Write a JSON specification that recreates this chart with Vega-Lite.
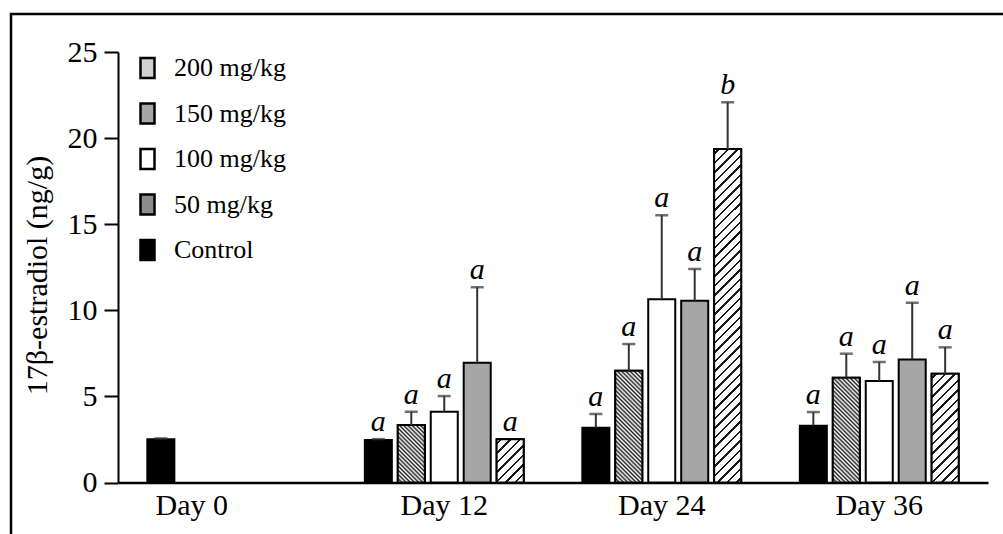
{
  "$schema": "https://vega.github.io/schema/vega-lite/v6.json",
  "width": 1003,
  "height": 530,
  "autosize": {"type": "none"},
  "padding": {"left": 11, "top": 14, "right": 0, "bottom": 0},
  "background": "white",
  "config": {
    "view": {"stroke": "black", "strokeWidth": 2.5},
    "font": "Liberation Serif"
  },
  "data": {
    "values": [
      {"day": "Day 0", "group": "Control", "mean": 2.51, "upper": 2.56, "letter": ""},
      {"day": "Day 12", "group": "Control", "mean": 2.47, "upper": 2.52, "letter": "a"},
      {"day": "Day 12", "group": "50 mg/kg", "mean": 3.34, "upper": 4.11, "letter": "a"},
      {"day": "Day 12", "group": "100 mg/kg", "mean": 4.11, "upper": 5.02, "letter": "a"},
      {"day": "Day 12", "group": "150 mg/kg", "mean": 6.96, "upper": 11.34, "letter": "a"},
      {"day": "Day 12", "group": "200 mg/kg", "mean": 2.51, "upper": 2.51, "letter": "a"},
      {"day": "Day 24", "group": "Control", "mean": 3.18, "upper": 3.98, "letter": "a"},
      {"day": "Day 24", "group": "50 mg/kg", "mean": 6.49, "upper": 8.04, "letter": "a"},
      {"day": "Day 24", "group": "100 mg/kg", "mean": 10.64, "upper": 15.52, "letter": "a"},
      {"day": "Day 24", "group": "150 mg/kg", "mean": 10.56, "upper": 12.4, "letter": "a"},
      {"day": "Day 24", "group": "200 mg/kg", "mean": 19.37, "upper": 22.08, "letter": "b"},
      {"day": "Day 36", "group": "Control", "mean": 3.3, "upper": 4.09, "letter": "a"},
      {"day": "Day 36", "group": "50 mg/kg", "mean": 6.09, "upper": 7.48, "letter": "a"},
      {"day": "Day 36", "group": "100 mg/kg", "mean": 5.89, "upper": 7.0, "letter": "a"},
      {"day": "Day 36", "group": "150 mg/kg", "mean": 7.15, "upper": 10.44, "letter": "a"},
      {"day": "Day 36", "group": "200 mg/kg", "mean": 6.32, "upper": 7.85, "letter": "a"}
    ]
  },
  "encoding": {
    "x": {
      "field": "day",
      "type": "nominal",
      "scale": {"domain": ["Day 0", "Day 12", "Day 24", "Day 36"], "range": [107, 977], "paddingInner": 0, "paddingOuter": 0},
      "axis": {
        "title": null,
        "offset": -61.5,
        "ticks": false,
        "domainColor": "black",
        "domainWidth": 2.5,
        "labelAngle": 0,
        "labelFont": "Liberation Serif",
        "labelFontSize": 30,
        "labelColor": "black",
        "labelPadding": 8,
        "labelOffset": {"condition": {"test": "datum.value === 'Day 0'", "value": -35}, "value": 0}
      }
    },
    "xOffset": {
      "field": "group",
      "type": "nominal",
      "scale": {"domain": ["Control", "50 mg/kg", "100 mg/kg", "150 mg/kg", "200 mg/kg"], "paddingInner": 0.18, "paddingOuter": 0.89}
    }
  },
  "layer": [
    {
      "mark": {"type": "bar", "stroke": "black", "strokeWidth": 2},
      "encoding": {
        "y": {
          "field": "mean",
          "type": "quantitative",
          "title": "17β-estradiol (ng/g)",
          "scale": {"domain": [0, 25], "range": [468.5, 38], "nice": false, "zero": true},
          "axis": {
            "values": [0, 5, 10, 15, 20, 25],
            "offset": -107,
            "tickSize": 14,
            "tickWidth": 2,
            "tickColor": "black",
            "domainColor": "black",
            "domainWidth": 2,
            "grid": false,
            "labelFont": "Liberation Serif",
            "labelFontSize": 30,
            "labelPadding": 7,
            "labelColor": "black",
            "titleFont": "Liberation Serif",
            "titleFontSize": 30,
            "titleFontWeight": "normal",
            "titleColor": "black",
            "titleX": -81,
            "titleY": 261,
            "titleAngle": -90,
            "titleBaseline": "middle",
            "titleAlign": "center"
          }
        },
        "fill": {
          "field": "group",
          "type": "nominal",
          "scale": {"domain": ["Control", "50 mg/kg", "100 mg/kg", "150 mg/kg", "200 mg/kg"], "range": ["black", "#8c8c8c", "white", "#a6a6a6", "#cfcfcf"]},
          "legend": {
            "orient": "none",
            "legendX": 123.5,
            "legendY": 41,
            "title": null,
            "values": ["200 mg/kg", "150 mg/kg", "100 mg/kg", "50 mg/kg", "Control"],
            "symbolType": "M-0.7,-1H0.7V1H-0.7Z",
            "symbolSize": 400,
            "symbolStrokeColor": "black",
            "symbolStrokeWidth": 2.5,
            "labelFont": "Liberation Serif",
            "labelFontSize": 26,
            "labelColor": "black",
            "labelOffset": 13.5,
            "rowPadding": 15.5,
            "padding": 0,
            "encode": {
              "symbols": {
                "update": {
                  "stroke": {"value": "black"},
                  "strokeWidth": {"value": 2.5},
                  "fill": {"signal": "datum.value === '200 mg/kg' ? {gradient: 'linear', x1: 0, y1: 0, x2: 0.7987, y2: 1.1409, stops: [{offset: 0, color: 'white'}, {offset: 0.1034, color: 'white'}, {offset: 0.1034, color: '#1a1a1a'}, {offset: 0.176, color: '#1a1a1a'}, {offset: 0.176, color: 'white'}, {offset: 0.3828, color: 'white'}, {offset: 0.3828, color: '#1a1a1a'}, {offset: 0.4554, color: '#1a1a1a'}, {offset: 0.4554, color: 'white'}, {offset: 0.6622, color: 'white'}, {offset: 0.6622, color: '#1a1a1a'}, {offset: 0.7348, color: '#1a1a1a'}, {offset: 0.7348, color: 'white'}, {offset: 0.9416, color: 'white'}, {offset: 0.9416, color: '#1a1a1a'}, {offset: 1, color: '#1a1a1a'}]} : (datum.value === '50 mg/kg' ? {gradient: 'linear', x1: 0, y1: 1, x2: 0.7987, y2: -0.1409, stops: [{offset: 0, color: '#222222'}, {offset: 0.06176, color: 'white'}, {offset: 0.12353, color: '#222222'}, {offset: 0.18529, color: 'white'}, {offset: 0.24706, color: '#222222'}, {offset: 0.30882, color: 'white'}, {offset: 0.37059, color: '#222222'}, {offset: 0.43235, color: 'white'}, {offset: 0.49412, color: '#222222'}, {offset: 0.55588, color: 'white'}, {offset: 0.61765, color: '#222222'}, {offset: 0.67941, color: 'white'}, {offset: 0.74118, color: '#222222'}, {offset: 0.80294, color: 'white'}, {offset: 0.86471, color: '#222222'}, {offset: 0.92647, color: 'white'}, {offset: 0.98824, color: '#222222'}]} : scale('fill', datum.value))"}
                }
              }
            }
          }
        }
      }
    },
    {
      "transform": [{"filter": "datum.group === '50 mg/kg' && datum.day === 'Day 12'"}],
      "mark": {"type": "bar", "stroke": "black", "strokeWidth": 2, "fill": {"gradient": "linear", "x1": 0, "y1": 1, "x2": 0.5653, "y2": -0.2041, "stops": [
        {"offset": 0, "color": "#222222"}, {"offset": 0.02485, "color": "white"}, {"offset": 0.0497, "color": "#222222"}, {"offset": 0.07455, "color": "white"},
        {"offset": 0.0994, "color": "#222222"}, {"offset": 0.12426, "color": "white"}, {"offset": 0.14911, "color": "#222222"}, {"offset": 0.17396, "color": "white"},
        {"offset": 0.19881, "color": "#222222"}, {"offset": 0.22366, "color": "white"}, {"offset": 0.24851, "color": "#222222"}, {"offset": 0.27336, "color": "white"},
        {"offset": 0.29821, "color": "#222222"}, {"offset": 0.32306, "color": "white"}, {"offset": 0.34791, "color": "#222222"}, {"offset": 0.37277, "color": "white"},
        {"offset": 0.39762, "color": "#222222"}, {"offset": 0.42247, "color": "white"}, {"offset": 0.44732, "color": "#222222"}, {"offset": 0.47217, "color": "white"},
        {"offset": 0.49702, "color": "#222222"}, {"offset": 0.52187, "color": "white"}, {"offset": 0.54672, "color": "#222222"}, {"offset": 0.57157, "color": "white"},
        {"offset": 0.59642, "color": "#222222"}, {"offset": 0.62128, "color": "white"}, {"offset": 0.64613, "color": "#222222"}, {"offset": 0.67098, "color": "white"},
        {"offset": 0.69583, "color": "#222222"}, {"offset": 0.72068, "color": "white"}, {"offset": 0.74553, "color": "#222222"}, {"offset": 0.77038, "color": "white"},
        {"offset": 0.79523, "color": "#222222"}, {"offset": 0.82008, "color": "white"}, {"offset": 0.84493, "color": "#222222"}, {"offset": 0.86979, "color": "white"},
        {"offset": 0.89464, "color": "#222222"}, {"offset": 0.91949, "color": "white"}, {"offset": 0.94434, "color": "#222222"}, {"offset": 0.96919, "color": "white"},
        {"offset": 0.99404, "color": "#222222"}
      ]}},
      "encoding": {"y": {"field": "mean", "type": "quantitative", "title": "17β-estradiol (ng/g)"}}
    },
    {
      "transform": [{"filter": "datum.group === '50 mg/kg' && datum.day === 'Day 24'"}],
      "mark": {"type": "bar", "stroke": "black", "strokeWidth": 2, "fill": {"gradient": "linear", "x1": 0, "y1": 1, "x2": 0.2834, "y2": -0.1732, "stops": [
        {"offset": 0, "color": "#222222"}, {"offset": 0.01513, "color": "white"}, {"offset": 0.03027, "color": "#222222"}, {"offset": 0.0454, "color": "white"},
        {"offset": 0.06053, "color": "#222222"}, {"offset": 0.07567, "color": "white"}, {"offset": 0.0908, "color": "#222222"}, {"offset": 0.10593, "color": "white"},
        {"offset": 0.12106, "color": "#222222"}, {"offset": 0.1362, "color": "white"}, {"offset": 0.15133, "color": "#222222"}, {"offset": 0.16646, "color": "white"},
        {"offset": 0.1816, "color": "#222222"}, {"offset": 0.19673, "color": "white"}, {"offset": 0.21186, "color": "#222222"}, {"offset": 0.227, "color": "white"},
        {"offset": 0.24213, "color": "#222222"}, {"offset": 0.25726, "color": "white"}, {"offset": 0.27239, "color": "#222222"}, {"offset": 0.28753, "color": "white"},
        {"offset": 0.30266, "color": "#222222"}, {"offset": 0.31779, "color": "white"}, {"offset": 0.33293, "color": "#222222"}, {"offset": 0.34806, "color": "white"},
        {"offset": 0.36319, "color": "#222222"}, {"offset": 0.37833, "color": "white"}, {"offset": 0.39346, "color": "#222222"}, {"offset": 0.40859, "color": "white"},
        {"offset": 0.42372, "color": "#222222"}, {"offset": 0.43886, "color": "white"}, {"offset": 0.45399, "color": "#222222"}, {"offset": 0.46912, "color": "white"},
        {"offset": 0.48426, "color": "#222222"}, {"offset": 0.49939, "color": "white"}, {"offset": 0.51452, "color": "#222222"}, {"offset": 0.52966, "color": "white"},
        {"offset": 0.54479, "color": "#222222"}, {"offset": 0.55992, "color": "white"}, {"offset": 0.57505, "color": "#222222"}, {"offset": 0.59019, "color": "white"},
        {"offset": 0.60532, "color": "#222222"}, {"offset": 0.62045, "color": "white"}, {"offset": 0.63559, "color": "#222222"}, {"offset": 0.65072, "color": "white"},
        {"offset": 0.66585, "color": "#222222"}, {"offset": 0.68099, "color": "white"}, {"offset": 0.69612, "color": "#222222"}, {"offset": 0.71125, "color": "white"},
        {"offset": 0.72638, "color": "#222222"}, {"offset": 0.74152, "color": "white"}, {"offset": 0.75665, "color": "#222222"}, {"offset": 0.77178, "color": "white"},
        {"offset": 0.78692, "color": "#222222"}, {"offset": 0.80205, "color": "white"}, {"offset": 0.81718, "color": "#222222"}, {"offset": 0.83232, "color": "white"},
        {"offset": 0.84745, "color": "#222222"}, {"offset": 0.86258, "color": "white"}, {"offset": 0.87771, "color": "#222222"}, {"offset": 0.89285, "color": "white"},
        {"offset": 0.90798, "color": "#222222"}, {"offset": 0.92311, "color": "white"}, {"offset": 0.93825, "color": "#222222"}, {"offset": 0.95338, "color": "white"},
        {"offset": 0.96851, "color": "#222222"}, {"offset": 0.98365, "color": "white"}, {"offset": 0.99878, "color": "#222222"}
      ]}},
      "encoding": {"y": {"field": "mean", "type": "quantitative", "title": "17β-estradiol (ng/g)"}}
    },
    {
      "transform": [{"filter": "datum.group === '50 mg/kg' && datum.day === 'Day 36'"}],
      "mark": {"type": "bar", "stroke": "black", "strokeWidth": 2, "fill": {"gradient": "linear", "x1": 0, "y1": 1, "x2": 0.3036, "y2": -0.1793, "stops": [
        {"offset": 0, "color": "#222222"}, {"offset": 0.01592, "color": "white"}, {"offset": 0.03185, "color": "#222222"}, {"offset": 0.04777, "color": "white"},
        {"offset": 0.06369, "color": "#222222"}, {"offset": 0.07962, "color": "white"}, {"offset": 0.09554, "color": "#222222"}, {"offset": 0.11146, "color": "white"},
        {"offset": 0.12739, "color": "#222222"}, {"offset": 0.14331, "color": "white"}, {"offset": 0.15924, "color": "#222222"}, {"offset": 0.17516, "color": "white"},
        {"offset": 0.19108, "color": "#222222"}, {"offset": 0.20701, "color": "white"}, {"offset": 0.22293, "color": "#222222"}, {"offset": 0.23885, "color": "white"},
        {"offset": 0.25478, "color": "#222222"}, {"offset": 0.2707, "color": "white"}, {"offset": 0.28662, "color": "#222222"}, {"offset": 0.30255, "color": "white"},
        {"offset": 0.31847, "color": "#222222"}, {"offset": 0.33439, "color": "white"}, {"offset": 0.35032, "color": "#222222"}, {"offset": 0.36624, "color": "white"},
        {"offset": 0.38216, "color": "#222222"}, {"offset": 0.39809, "color": "white"}, {"offset": 0.41401, "color": "#222222"}, {"offset": 0.42993, "color": "white"},
        {"offset": 0.44586, "color": "#222222"}, {"offset": 0.46178, "color": "white"}, {"offset": 0.47771, "color": "#222222"}, {"offset": 0.49363, "color": "white"},
        {"offset": 0.50955, "color": "#222222"}, {"offset": 0.52548, "color": "white"}, {"offset": 0.5414, "color": "#222222"}, {"offset": 0.55732, "color": "white"},
        {"offset": 0.57325, "color": "#222222"}, {"offset": 0.58917, "color": "white"}, {"offset": 0.60509, "color": "#222222"}, {"offset": 0.62102, "color": "white"},
        {"offset": 0.63694, "color": "#222222"}, {"offset": 0.65286, "color": "white"}, {"offset": 0.66879, "color": "#222222"}, {"offset": 0.68471, "color": "white"},
        {"offset": 0.70063, "color": "#222222"}, {"offset": 0.71656, "color": "white"}, {"offset": 0.73248, "color": "#222222"}, {"offset": 0.7484, "color": "white"},
        {"offset": 0.76433, "color": "#222222"}, {"offset": 0.78025, "color": "white"}, {"offset": 0.79618, "color": "#222222"}, {"offset": 0.8121, "color": "white"},
        {"offset": 0.82802, "color": "#222222"}, {"offset": 0.84395, "color": "white"}, {"offset": 0.85987, "color": "#222222"}, {"offset": 0.87579, "color": "white"},
        {"offset": 0.89172, "color": "#222222"}, {"offset": 0.90764, "color": "white"}, {"offset": 0.92356, "color": "#222222"}, {"offset": 0.93949, "color": "white"},
        {"offset": 0.95541, "color": "#222222"}, {"offset": 0.97133, "color": "white"}, {"offset": 0.98726, "color": "#222222"}
      ]}},
      "encoding": {"y": {"field": "mean", "type": "quantitative", "title": "17β-estradiol (ng/g)"}}
    },
    {
      "transform": [{"filter": "datum.group === '200 mg/kg' && datum.day === 'Day 12'"}],
      "mark": {"type": "bar", "stroke": "black", "strokeWidth": 2, "fill": {"gradient": "linear", "x1": 0, "y1": 0, "x2": 0.7304, "y2": 1.1686, "stops": [
        {"offset": 0, "color": "white"},
        {"offset": 0.05, "color": "white"}, {"offset": 0.05, "color": "#1a1a1a"}, {"offset": 0.08514, "color": "#1a1a1a"}, {"offset": 0.08514, "color": "white"},
        {"offset": 0.18514, "color": "white"}, {"offset": 0.18514, "color": "#1a1a1a"}, {"offset": 0.22027, "color": "#1a1a1a"}, {"offset": 0.22027, "color": "white"},
        {"offset": 0.32027, "color": "white"}, {"offset": 0.32027, "color": "#1a1a1a"}, {"offset": 0.35541, "color": "#1a1a1a"}, {"offset": 0.35541, "color": "white"},
        {"offset": 0.45541, "color": "white"}, {"offset": 0.45541, "color": "#1a1a1a"}, {"offset": 0.49054, "color": "#1a1a1a"}, {"offset": 0.49054, "color": "white"},
        {"offset": 0.59054, "color": "white"}, {"offset": 0.59054, "color": "#1a1a1a"}, {"offset": 0.62568, "color": "#1a1a1a"}, {"offset": 0.62568, "color": "white"},
        {"offset": 0.72568, "color": "white"}, {"offset": 0.72568, "color": "#1a1a1a"}, {"offset": 0.76081, "color": "#1a1a1a"}, {"offset": 0.76081, "color": "white"},
        {"offset": 0.86081, "color": "white"}, {"offset": 0.86081, "color": "#1a1a1a"}, {"offset": 0.89595, "color": "#1a1a1a"}, {"offset": 0.89595, "color": "white"},
        {"offset": 1, "color": "white"}
      ]}},
      "encoding": {"y": {"field": "mean", "type": "quantitative", "title": "17β-estradiol (ng/g)"}}
    },
    {
      "transform": [{"filter": "datum.group === '200 mg/kg' && datum.day === 'Day 36'"}],
      "mark": {"type": "bar", "stroke": "black", "strokeWidth": 2, "fill": {"gradient": "linear", "x1": 0, "y1": 0, "x2": 0.29178, "y2": 1.17576, "stops": [
        {"offset": 0, "color": "white"},
        {"offset": 0.02589, "color": "white"}, {"offset": 0.02589, "color": "#1a1a1a"}, {"offset": 0.04409, "color": "#1a1a1a"}, {"offset": 0.04409, "color": "white"},
        {"offset": 0.09587, "color": "white"}, {"offset": 0.09587, "color": "#1a1a1a"}, {"offset": 0.11407, "color": "#1a1a1a"}, {"offset": 0.11407, "color": "white"},
        {"offset": 0.16585, "color": "white"}, {"offset": 0.16585, "color": "#1a1a1a"}, {"offset": 0.18405, "color": "#1a1a1a"}, {"offset": 0.18405, "color": "white"},
        {"offset": 0.23583, "color": "white"}, {"offset": 0.23583, "color": "#1a1a1a"}, {"offset": 0.25403, "color": "#1a1a1a"}, {"offset": 0.25403, "color": "white"},
        {"offset": 0.30581, "color": "white"}, {"offset": 0.30581, "color": "#1a1a1a"}, {"offset": 0.32401, "color": "#1a1a1a"}, {"offset": 0.32401, "color": "white"},
        {"offset": 0.37579, "color": "white"}, {"offset": 0.37579, "color": "#1a1a1a"}, {"offset": 0.39399, "color": "#1a1a1a"}, {"offset": 0.39399, "color": "white"},
        {"offset": 0.44577, "color": "white"}, {"offset": 0.44577, "color": "#1a1a1a"}, {"offset": 0.46397, "color": "#1a1a1a"}, {"offset": 0.46397, "color": "white"},
        {"offset": 0.51575, "color": "white"}, {"offset": 0.51575, "color": "#1a1a1a"}, {"offset": 0.53395, "color": "#1a1a1a"}, {"offset": 0.53395, "color": "white"},
        {"offset": 0.58573, "color": "white"}, {"offset": 0.58573, "color": "#1a1a1a"}, {"offset": 0.60393, "color": "#1a1a1a"}, {"offset": 0.60393, "color": "white"},
        {"offset": 0.65571, "color": "white"}, {"offset": 0.65571, "color": "#1a1a1a"}, {"offset": 0.67391, "color": "#1a1a1a"}, {"offset": 0.67391, "color": "white"},
        {"offset": 0.72569, "color": "white"}, {"offset": 0.72569, "color": "#1a1a1a"}, {"offset": 0.74389, "color": "#1a1a1a"}, {"offset": 0.74389, "color": "white"},
        {"offset": 0.79567, "color": "white"}, {"offset": 0.79567, "color": "#1a1a1a"}, {"offset": 0.81387, "color": "#1a1a1a"}, {"offset": 0.81387, "color": "white"},
        {"offset": 0.86565, "color": "white"}, {"offset": 0.86565, "color": "#1a1a1a"}, {"offset": 0.88385, "color": "#1a1a1a"}, {"offset": 0.88385, "color": "white"},
        {"offset": 0.93563, "color": "white"}, {"offset": 0.93563, "color": "#1a1a1a"}, {"offset": 0.95383, "color": "#1a1a1a"}, {"offset": 0.95383, "color": "white"},
        {"offset": 1, "color": "white"}
      ]}},
      "encoding": {"y": {"field": "mean", "type": "quantitative", "title": "17β-estradiol (ng/g)"}}
    },
    {
      "transform": [{"filter": "datum.group === '200 mg/kg' && datum.day === 'Day 24'"}],
      "mark": {"type": "bar", "stroke": "black", "strokeWidth": 2, "fill": {"gradient": "linear", "x1": 0, "y1": 0, "x2": 0.08691, "y2": 1.07388, "stops": [
        {"offset": 0, "color": "white"},
        {"offset": 0.00974, "color": "white"}, {"offset": 0.00974, "color": "#1a1a1a"}, {"offset": 0.01658, "color": "#1a1a1a"}, {"offset": 0.01658, "color": "white"},
        {"offset": 0.03605, "color": "white"}, {"offset": 0.03605, "color": "#1a1a1a"}, {"offset": 0.04289, "color": "#1a1a1a"}, {"offset": 0.04289, "color": "white"},
        {"offset": 0.06237, "color": "white"}, {"offset": 0.06237, "color": "#1a1a1a"}, {"offset": 0.06921, "color": "#1a1a1a"}, {"offset": 0.06921, "color": "white"},
        {"offset": 0.08868, "color": "white"}, {"offset": 0.08868, "color": "#1a1a1a"}, {"offset": 0.09553, "color": "#1a1a1a"}, {"offset": 0.09553, "color": "white"},
        {"offset": 0.115, "color": "white"}, {"offset": 0.115, "color": "#1a1a1a"}, {"offset": 0.12184, "color": "#1a1a1a"}, {"offset": 0.12184, "color": "white"},
        {"offset": 0.14132, "color": "white"}, {"offset": 0.14132, "color": "#1a1a1a"}, {"offset": 0.14816, "color": "#1a1a1a"}, {"offset": 0.14816, "color": "white"},
        {"offset": 0.16763, "color": "white"}, {"offset": 0.16763, "color": "#1a1a1a"}, {"offset": 0.17447, "color": "#1a1a1a"}, {"offset": 0.17447, "color": "white"},
        {"offset": 0.19395, "color": "white"}, {"offset": 0.19395, "color": "#1a1a1a"}, {"offset": 0.20079, "color": "#1a1a1a"}, {"offset": 0.20079, "color": "white"},
        {"offset": 0.22026, "color": "white"}, {"offset": 0.22026, "color": "#1a1a1a"}, {"offset": 0.22711, "color": "#1a1a1a"}, {"offset": 0.22711, "color": "white"},
        {"offset": 0.24658, "color": "white"}, {"offset": 0.24658, "color": "#1a1a1a"}, {"offset": 0.25342, "color": "#1a1a1a"}, {"offset": 0.25342, "color": "white"},
        {"offset": 0.27289, "color": "white"}, {"offset": 0.27289, "color": "#1a1a1a"}, {"offset": 0.27974, "color": "#1a1a1a"}, {"offset": 0.27974, "color": "white"},
        {"offset": 0.29921, "color": "white"}, {"offset": 0.29921, "color": "#1a1a1a"}, {"offset": 0.30605, "color": "#1a1a1a"}, {"offset": 0.30605, "color": "white"},
        {"offset": 0.32553, "color": "white"}, {"offset": 0.32553, "color": "#1a1a1a"}, {"offset": 0.33237, "color": "#1a1a1a"}, {"offset": 0.33237, "color": "white"},
        {"offset": 0.35184, "color": "white"}, {"offset": 0.35184, "color": "#1a1a1a"}, {"offset": 0.35868, "color": "#1a1a1a"}, {"offset": 0.35868, "color": "white"},
        {"offset": 0.37816, "color": "white"}, {"offset": 0.37816, "color": "#1a1a1a"}, {"offset": 0.385, "color": "#1a1a1a"}, {"offset": 0.385, "color": "white"},
        {"offset": 0.40447, "color": "white"}, {"offset": 0.40447, "color": "#1a1a1a"}, {"offset": 0.41132, "color": "#1a1a1a"}, {"offset": 0.41132, "color": "white"},
        {"offset": 0.43079, "color": "white"}, {"offset": 0.43079, "color": "#1a1a1a"}, {"offset": 0.43763, "color": "#1a1a1a"}, {"offset": 0.43763, "color": "white"},
        {"offset": 0.45711, "color": "white"}, {"offset": 0.45711, "color": "#1a1a1a"}, {"offset": 0.46395, "color": "#1a1a1a"}, {"offset": 0.46395, "color": "white"},
        {"offset": 0.48342, "color": "white"}, {"offset": 0.48342, "color": "#1a1a1a"}, {"offset": 0.49026, "color": "#1a1a1a"}, {"offset": 0.49026, "color": "white"},
        {"offset": 0.50974, "color": "white"}, {"offset": 0.50974, "color": "#1a1a1a"}, {"offset": 0.51658, "color": "#1a1a1a"}, {"offset": 0.51658, "color": "white"},
        {"offset": 0.53605, "color": "white"}, {"offset": 0.53605, "color": "#1a1a1a"}, {"offset": 0.54289, "color": "#1a1a1a"}, {"offset": 0.54289, "color": "white"},
        {"offset": 0.56237, "color": "white"}, {"offset": 0.56237, "color": "#1a1a1a"}, {"offset": 0.56921, "color": "#1a1a1a"}, {"offset": 0.56921, "color": "white"},
        {"offset": 0.58868, "color": "white"}, {"offset": 0.58868, "color": "#1a1a1a"}, {"offset": 0.59553, "color": "#1a1a1a"}, {"offset": 0.59553, "color": "white"},
        {"offset": 0.615, "color": "white"}, {"offset": 0.615, "color": "#1a1a1a"}, {"offset": 0.62184, "color": "#1a1a1a"}, {"offset": 0.62184, "color": "white"},
        {"offset": 0.64132, "color": "white"}, {"offset": 0.64132, "color": "#1a1a1a"}, {"offset": 0.64816, "color": "#1a1a1a"}, {"offset": 0.64816, "color": "white"},
        {"offset": 0.66763, "color": "white"}, {"offset": 0.66763, "color": "#1a1a1a"}, {"offset": 0.67447, "color": "#1a1a1a"}, {"offset": 0.67447, "color": "white"},
        {"offset": 0.69395, "color": "white"}, {"offset": 0.69395, "color": "#1a1a1a"}, {"offset": 0.70079, "color": "#1a1a1a"}, {"offset": 0.70079, "color": "white"},
        {"offset": 0.72026, "color": "white"}, {"offset": 0.72026, "color": "#1a1a1a"}, {"offset": 0.72711, "color": "#1a1a1a"}, {"offset": 0.72711, "color": "white"},
        {"offset": 0.74658, "color": "white"}, {"offset": 0.74658, "color": "#1a1a1a"}, {"offset": 0.75342, "color": "#1a1a1a"}, {"offset": 0.75342, "color": "white"},
        {"offset": 0.77289, "color": "white"}, {"offset": 0.77289, "color": "#1a1a1a"}, {"offset": 0.77974, "color": "#1a1a1a"}, {"offset": 0.77974, "color": "white"},
        {"offset": 0.79921, "color": "white"}, {"offset": 0.79921, "color": "#1a1a1a"}, {"offset": 0.80605, "color": "#1a1a1a"}, {"offset": 0.80605, "color": "white"},
        {"offset": 0.82553, "color": "white"}, {"offset": 0.82553, "color": "#1a1a1a"}, {"offset": 0.83237, "color": "#1a1a1a"}, {"offset": 0.83237, "color": "white"},
        {"offset": 0.85184, "color": "white"}, {"offset": 0.85184, "color": "#1a1a1a"}, {"offset": 0.85868, "color": "#1a1a1a"}, {"offset": 0.85868, "color": "white"},
        {"offset": 0.87816, "color": "white"}, {"offset": 0.87816, "color": "#1a1a1a"}, {"offset": 0.885, "color": "#1a1a1a"}, {"offset": 0.885, "color": "white"},
        {"offset": 0.90447, "color": "white"}, {"offset": 0.90447, "color": "#1a1a1a"}, {"offset": 0.91132, "color": "#1a1a1a"}, {"offset": 0.91132, "color": "white"},
        {"offset": 0.93079, "color": "white"}, {"offset": 0.93079, "color": "#1a1a1a"}, {"offset": 0.93763, "color": "#1a1a1a"}, {"offset": 0.93763, "color": "white"},
        {"offset": 0.95711, "color": "white"}, {"offset": 0.95711, "color": "#1a1a1a"}, {"offset": 0.96395, "color": "#1a1a1a"}, {"offset": 0.96395, "color": "white"},
        {"offset": 0.98342, "color": "white"}, {"offset": 0.98342, "color": "#1a1a1a"}, {"offset": 0.99026, "color": "#1a1a1a"}, {"offset": 0.99026, "color": "white"},
        {"offset": 1, "color": "white"}
      ]}},
      "encoding": {"y": {"field": "mean", "type": "quantitative", "title": "17β-estradiol (ng/g)"}}
    },
    {
      "mark": {"type": "rule", "color": "#333333", "strokeWidth": 2},
      "encoding": {
        "y": {"field": "mean", "type": "quantitative", "title": "17β-estradiol (ng/g)"},
        "y2": {"field": "upper"}
      }
    },
    {
      "transform": [{"filter": "datum.upper > datum.mean"}],
      "mark": {"type": "tick", "color": "#333333", "thickness": 2.5, "size": 13},
      "encoding": {
        "y": {"field": "upper", "type": "quantitative", "title": "17β-estradiol (ng/g)"}
      }
    },
    {
      "transform": [{"filter": "datum.letter != ''"}],
      "mark": {"type": "text", "font": "Liberation Serif", "fontStyle": "italic", "fontSize": 30, "baseline": "alphabetic", "dy": -8, "color": "black"},
      "encoding": {
        "y": {"field": "upper", "type": "quantitative", "title": "17β-estradiol (ng/g)"},
        "text": {"field": "letter"}
      }
    }
  ]
}
